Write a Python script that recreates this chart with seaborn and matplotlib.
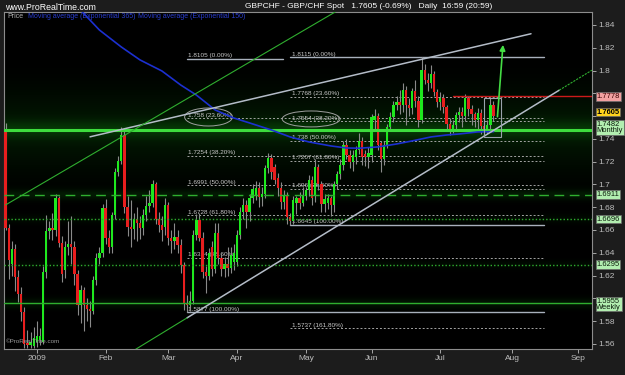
import numpy as np
import pandas as pd
import matplotlib
matplotlib.use('Agg')
import matplotlib.pyplot as plt
import matplotlib.transforms as mtrans
import seaborn as sns
from matplotlib.patches import Ellipse, Rectangle, FancyArrowPatch

# ---------------- data ----------------
start_date = '2008-12-18'
opens = [1.746, 1.662, 1.630, 1.643, 1.619, 1.604, 1.588, 1.561, 1.559, 1.558,
         1.562, 1.563, 1.562, 1.623, 1.659, 1.662, 1.660, 1.688, 1.649, 1.625,
         1.645, 1.648, 1.645, 1.621, 1.594, 1.607, 1.594, 1.591, 1.589, 1.616,
         1.635, 1.640, 1.679, 1.653, 1.645, 1.673, 1.711, 1.721, 1.743, 1.680,
         1.663, 1.661, 1.670, 1.666, 1.662, 1.673, 1.681, 1.684, 1.700, 1.670,
         1.664, 1.663, 1.682, 1.653, 1.650, 1.654, 1.647, 1.629, 1.596, 1.594,
         1.598, 1.656, 1.669, 1.653, 1.623, 1.620, 1.645, 1.626, 1.657, 1.635,
         1.626, 1.630, 1.627, 1.632, 1.632, 1.656, 1.676, 1.682, 1.676, 1.688,
         1.690, 1.697, 1.689, 1.692, 1.714, 1.723, 1.715, 1.706, 1.697, 1.685,
         1.690, 1.671, 1.668, 1.684, 1.688, 1.684, 1.690, 1.695, 1.704, 1.690,
         1.715, 1.700, 1.683, 1.684, 1.688, 1.682, 1.700, 1.709, 1.717, 1.735,
         1.726, 1.720, 1.724, 1.730, 1.738, 1.727, 1.724, 1.726, 1.757, 1.760,
         1.736, 1.722, 1.735, 1.750, 1.759, 1.770, 1.772, 1.770, 1.783, 1.770,
         1.767, 1.782, 1.773, 1.757, 1.8005, 1.792, 1.789, 1.797, 1.781, 1.772,
         1.776, 1.768, 1.753, 1.749, 1.752, 1.761, 1.764, 1.760, 1.776, 1.766,
         1.762, 1.757, 1.763, 1.751, 1.748, 1.752, 1.770]
highs = [1.754, 1.665, 1.650, 1.648, 1.625, 1.610, 1.592, 1.572, 1.570, 1.575,
         1.580, 1.574, 1.628, 1.673, 1.668, 1.675, 1.692, 1.690, 1.655, 1.650,
         1.668, 1.672, 1.650, 1.625, 1.612, 1.610, 1.600, 1.598, 1.620, 1.640,
         1.645, 1.683, 1.687, 1.660, 1.676, 1.714, 1.725, 1.750, 1.749, 1.690,
         1.686, 1.675, 1.680, 1.672, 1.678, 1.690, 1.695, 1.704, 1.702, 1.676,
         1.672, 1.688, 1.685, 1.660, 1.666, 1.660, 1.652, 1.632, 1.603, 1.606,
         1.660, 1.674, 1.675, 1.658, 1.628, 1.644, 1.650, 1.666, 1.666, 1.640,
         1.636, 1.645, 1.645, 1.648, 1.660, 1.680, 1.688, 1.686, 1.692, 1.700,
         1.703, 1.702, 1.698, 1.717, 1.728, 1.727, 1.718, 1.710, 1.702, 1.695,
         1.693, 1.675, 1.690, 1.690, 1.693, 1.698, 1.698, 1.708, 1.707, 1.722,
         1.718, 1.703, 1.692, 1.692, 1.690, 1.703, 1.712, 1.722, 1.738, 1.740,
         1.730, 1.730, 1.734, 1.745, 1.742, 1.730, 1.733, 1.762, 1.766, 1.763,
         1.738, 1.738, 1.753, 1.764, 1.773, 1.778, 1.783, 1.789, 1.786, 1.776,
         1.785, 1.792, 1.778, 1.8115, 1.806, 1.798, 1.805, 1.800, 1.784, 1.781,
         1.779, 1.770, 1.758, 1.757, 1.764, 1.768, 1.768, 1.779, 1.778, 1.770,
         1.764, 1.767, 1.766, 1.755, 1.757, 1.776, 1.773]
lows = [1.660, 1.617, 1.620, 1.606, 1.597, 1.580, 1.556, 1.556, 1.556, 1.556,
        1.557, 1.559, 1.560, 1.618, 1.652, 1.651, 1.655, 1.645, 1.614, 1.618,
        1.638, 1.630, 1.612, 1.585, 1.578, 1.571, 1.580, 1.575, 1.586, 1.612,
        1.630, 1.636, 1.648, 1.640, 1.640, 1.670, 1.707, 1.718, 1.675, 1.655,
        1.645, 1.652, 1.650, 1.652, 1.656, 1.668, 1.676, 1.680, 1.665, 1.658,
        1.650, 1.656, 1.647, 1.640, 1.643, 1.640, 1.622, 1.590, 1.5877, 1.589,
        1.595, 1.651, 1.650, 1.618, 1.605, 1.616, 1.620, 1.622, 1.630, 1.620,
        1.619, 1.620, 1.622, 1.625, 1.628, 1.652, 1.670, 1.662, 1.668, 1.684,
        1.686, 1.680, 1.681, 1.688, 1.710, 1.705, 1.700, 1.690, 1.678, 1.678,
        1.665, 1.6645, 1.665, 1.674, 1.678, 1.681, 1.686, 1.690, 1.682, 1.685,
        1.695, 1.676, 1.676, 1.678, 1.672, 1.676, 1.696, 1.705, 1.713, 1.722,
        1.714, 1.712, 1.718, 1.727, 1.717, 1.716, 1.714, 1.720, 1.748, 1.730,
        1.711, 1.717, 1.732, 1.747, 1.755, 1.765, 1.762, 1.764, 1.752, 1.760,
        1.762, 1.768, 1.7505, 1.754, 1.788, 1.782, 1.785, 1.778, 1.768, 1.765,
        1.763, 1.749, 1.743, 1.745, 1.747, 1.755, 1.750, 1.756, 1.760, 1.752,
        1.750, 1.748, 1.744, 1.7417, 1.744, 1.749, 1.756]
closes = [1.662, 1.634, 1.643, 1.619, 1.604, 1.588, 1.560, 1.559, 1.562, 1.565,
          1.567, 1.567, 1.623, 1.659, 1.662, 1.660, 1.688, 1.649, 1.621, 1.645,
          1.648, 1.645, 1.621, 1.594, 1.607, 1.594, 1.591, 1.589, 1.616, 1.635,
          1.640, 1.679, 1.653, 1.645, 1.673, 1.711, 1.721, 1.743, 1.680, 1.663,
          1.661, 1.670, 1.666, 1.662, 1.673, 1.681, 1.684, 1.700, 1.670, 1.664,
          1.660, 1.682, 1.653, 1.650, 1.654, 1.647, 1.629, 1.596, 1.594, 1.598,
          1.656, 1.669, 1.653, 1.623, 1.620, 1.640, 1.626, 1.657, 1.635, 1.626,
          1.630, 1.627, 1.638, 1.640, 1.656, 1.676, 1.682, 1.676, 1.688, 1.696,
          1.697, 1.689, 1.692, 1.714, 1.723, 1.711, 1.704, 1.697, 1.685, 1.690,
          1.671, 1.668, 1.686, 1.688, 1.684, 1.690, 1.695, 1.704, 1.688, 1.715,
          1.700, 1.683, 1.687, 1.688, 1.682, 1.700, 1.709, 1.717, 1.735, 1.726,
          1.720, 1.726, 1.730, 1.738, 1.724, 1.724, 1.728, 1.759, 1.760, 1.735,
          1.722, 1.735, 1.750, 1.759, 1.770, 1.772, 1.770, 1.783, 1.770, 1.767,
          1.782, 1.773, 1.757, 1.8005, 1.792, 1.789, 1.797, 1.781, 1.772, 1.776,
          1.768, 1.753, 1.749, 1.752, 1.761, 1.764, 1.760, 1.776, 1.766, 1.762,
          1.757, 1.763, 1.751, 1.748, 1.752, 1.770, 1.7605]

ema_dates = ['2009-01-21', '2009-01-29', '2009-02-09', '2009-02-17', '2009-02-26',
             '2009-03-06', '2009-03-13', '2009-03-23', '2009-03-31', '2009-04-07',
             '2009-04-16', '2009-04-24', '2009-05-04', '2009-05-13', '2009-05-20',
             '2009-05-26', '2009-06-03', '2009-06-11', '2009-06-18', '2009-06-26',
             '2009-07-03', '2009-07-09', '2009-07-17', '2009-07-24']
ema_values = [1.853, 1.8356, 1.8207, 1.8093, 1.7996, 1.7873, 1.7785, 1.7654,
              1.7583, 1.7540, 1.7478, 1.7417, 1.7373, 1.7338, 1.7320, 1.7318,
              1.7329, 1.7355, 1.7382, 1.7417, 1.7434, 1.7443, 1.7461, 1.7463]

month_ticks = ['2009-01-01', '2009-02-02', '2009-03-02', '2009-04-01', '2009-05-01',
               '2009-06-01', '2009-07-01', '2009-08-03', '2009-09-01']
month_labels = ['2009', 'Feb', 'Mar', 'Apr', 'May', 'Jun', 'Jul', 'Aug', 'Sep']

fib_a_levels = [1.8105, 1.758, 1.7254, 1.6991, 1.6728, 1.6354, 1.5877]
fib_a_pcts = ['0.00', '23.60', '38.20', '50.00', '61.80', '78.60', '100.00']
fib_b_levels = [1.8115, 1.7768, 1.7554, 1.738, 1.7207, 1.696, 1.6645, 1.5737]
fib_b_pcts = ['0.00', '23.60', '38.20', '50.00', '61.80', '78.60', '100.00', '161.80']

support_levels = [1.7482, 1.6911, 1.6696, 1.6295, 1.5955]
resistance_level = 1.7778
last_price = 1.7605

box_values = [1.7778, 1.7605, 1.7482, 1.6911, 1.6696, 1.6295, 1.5955]
box_texts = ['1.7778', '1.7605', '1.7482\nMonthly', '1.6911', '1.6696', '1.6295', '1.5955\nWeekly']
hidden_ticks = [1.78, 1.76, 1.6]

# ---------------- style ----------------
sns.set_theme(style='dark', rc={
    'figure.facecolor': '#1c1c1c', 'axes.facecolor': '#000000',
    'axes.edgecolor': '#8c8c8c', 'xtick.color': '#bdbdbd', 'ytick.color': '#bdbdbd',
    'text.color': '#c8c8c8', 'axes.grid': False, 'axes.linewidth': 0.8})
plt.rcParams['font.family'] = ['Liberation Sans', 'DejaVu Sans']

cal = pd.bdate_range(start_date, '2009-09-30')
def pos(d):
    return cal.get_loc(pd.Timestamp(d))

fig = plt.figure(figsize=(6.25, 3.75), dpi=100)
ax = fig.add_axes([4 / 625, 26 / 375, 588 / 625, 337 / 375])
xmin, xmax = -0.5, 187.5
ymin, ymax = 1.5555, 1.8514
ax.set_xlim(xmin, xmax)
ax.set_ylim(ymin, ymax)

# glow background
ys = np.linspace(ymin, ymax, 900)
glow = (0.13 * np.exp(-((ys - 1.7482) / 0.008) ** 2) +
        0.085 * np.exp(-((ys - 1.7482) / 0.035) ** 2) +
        0.10 * np.exp(-((ys - 1.6911) / 0.0045) ** 2) +
        0.08 * np.exp(-((ys - 1.5955) / 0.0045) ** 2) +
        0.04 * np.exp(-((ys - 1.6696) / 0.004) ** 2) +
        0.04 * np.exp(-((ys - 1.6295) / 0.004) ** 2))
img = np.zeros((len(ys), 1, 3))
img[:, 0, 0] = 0.10 * glow
img[:, 0, 1] = glow
img[:, 0, 2] = 0.10 * glow
ax.imshow(np.clip(img, 0, 1), extent=[xmin, xmax, ymin, ymax], origin='lower',
          aspect='auto', zorder=0, interpolation='bilinear')

# fibonacci sets
fa0, fa1, fa_end0 = pos('2009-03-10'), pos('2009-08-17'), pos('2009-04-21') + 0.8
fb0 = pos('2009-04-24')
fibc = '#a4a4a4'
for k, (lv, pc) in enumerate(zip(fib_a_levels, fib_a_pcts)):
    if k == 0:
        ax.plot([fa0, fa_end0], [lv, lv], color='#a8b0bc', lw=1.0, zorder=1)
    elif pc == '100.00':
        ax.plot([fa0, fa1], [lv, lv], color='#a8b0bc', lw=1.0, zorder=1)
    else:
        ax.plot([fa0, fa1], [lv, lv], color=fibc, lw=0.7, ls=(0, (2, 2)), zorder=1)
    ax.text(fa0 + 0.3, lv + 0.0006, f'{lv:g} ({pc}%)', fontsize=4.6,
            color='#c8c8c8', ha='left', va='bottom', zorder=1.5)
for lv, pc in zip(fib_b_levels, fib_b_pcts):
    if pc in ('0.00', '100.00'):
        ax.plot([fb0, fa1], [lv, lv], color='#a8b0bc', lw=1.0, zorder=1)
    else:
        ax.plot([fb0, fa1], [lv, lv], color=fibc, lw=0.7, ls=(0, (2, 2)), zorder=1)
    ax.text(fb0 + 0.6, lv + 0.0006, f'{lv:g} ({pc}%)', fontsize=4.6,
            color='#c8c8c8', ha='left', va='bottom', zorder=1.5)

# ellipses around fib labels
ax.add_patch(Ellipse((pos('2009-03-18') + 0.9, 1.7592), 15.3, 0.0158, fill=False,
                     ec='#a0a0a0', lw=0.7, zorder=1.6))
ax.add_patch(Ellipse((pos('2009-05-05') - 0.3, 1.7575), 18.5, 0.0140, fill=False,
                     ec='#a0a0a0', lw=0.7, zorder=1.6))

# candles
x = np.arange(len(opens))
o = np.array(opens); h = np.array(highs); l = np.array(lows); c = np.array(closes)
up = c >= o
ax.vlines(x, l, h, color='#8a8a8a', lw=0.8, zorder=3)
body_bottom = np.minimum(o, c)
body_h = np.maximum(np.abs(c - o), 0.0009)
ax.bar(x, body_h, bottom=body_bottom, width=0.74,
       color=np.where(up, '#1ee81e', '#e81e1e'), edgecolor='none',
       linewidth=0, zorder=4)

# green horizontal levels
ax.axhline(support_levels[0], color='#3ddc3d', lw=2.2, zorder=4.5)
ax.axhline(support_levels[1], color='#2fae2f', lw=1.0, ls=(0, (7, 4)), zorder=4.5)
ax.axhline(support_levels[2], color='#2fae2f', lw=1.0, ls=(0, (1, 1.5)), zorder=4.5)
ax.axhline(support_levels[3], color='#2fae2f', lw=1.0, ls=(0, (1, 1.5)), zorder=4.5)
ax.axhline(support_levels[4], color='#2fae2f', lw=1.0, zorder=4.5)
ax.plot([pos('2009-07-07'), xmax], [resistance_level, resistance_level],
        color='#cc1a1a', lw=1.0, zorder=4.5)

# EMA (blue)
sns.lineplot(x=[pos(d) for d in ema_dates], y=ema_values, ax=ax, color='#1c30d0',
             linewidth=1.2, zorder=5, legend=False)

# trend lines
tc = '#b4bcc8'
ax.plot([pos('2009-01-26'), pos('2009-08-11')], [1.7418, 1.8323], color=tc, lw=1.1, zorder=5)
pa, pb = (pos('2009-03-10'), 1.5828), (pos('2009-08-24'), 1.7827)
slope = (pb[1] - pa[1]) / (pb[0] - pa[0])
xl = pos('2009-02-13')
ax.plot([pa[0], pb[0]], [pa[1], pb[1]], color=tc, lw=1.1, zorder=5)
ax.plot([xl, pa[0]], [pa[1] + slope * (xl - pa[0]), pa[1]], color='#2fae2f', lw=0.8, zorder=5)
ax.plot([pb[0], xmax], [pb[1], pb[1] + slope * (xmax - pb[0])], color='#2fae2f',
        lw=0.8, ls=(0, (2, 1)), zorder=5)
ax.plot([pos('2008-12-18'), pos('2009-05-18')], [1.682, 1.854], color='#2fae2f', lw=0.8, zorder=5)

# consolidation box and arrow
ax.add_patch(Rectangle((pos('2009-07-21'), 1.7417), 5.5, 1.7759 - 1.7417, fill=False,
                       ec='#9aa2ac', lw=0.8, zorder=5.5))
ax.add_patch(FancyArrowPatch((pos('2009-07-27') + 0.2, 1.7570), (pos('2009-07-29') + 0.1, 1.8250),
                             arrowstyle='-|>', mutation_scale=8, color='#44dd44', lw=1.2,
                             zorder=6))

# axes styling
ax.yaxis.tick_right()
yt = np.round(np.arange(1.56, 1.8401, 0.02), 2)
ax.set_yticks(yt)
ax.set_yticklabels(['' if any(abs(v - hv) < 1e-6 for hv in hidden_ticks) else f'{v:g}'
                    for v in yt])
ax.set_xticks([pos(d) for d in month_ticks])
ax.set_xticklabels(month_labels)
ax.tick_params(axis='y', right=True, left=False, labelright=True, labelleft=False,
               length=3, width=0.6, pad=1.5, labelsize=6, colors='#bdbdbd')
ax.tick_params(axis='x', bottom=True, length=3, width=0.6, pad=1.5, labelsize=6,
               colors='#bdbdbd')
for s in ax.spines.values():
    s.set_color('#8c8c8c')
    s.set_linewidth(0.8)

# right side price boxes
trans = mtrans.blended_transform_factory(ax.transAxes, ax.transData)
box_fc = ['#f2a0a0', '#ffd21e', '#b2eeb0', '#b2eeb0', '#b2eeb0', '#b2eeb0', '#b2eeb0']
box_tc = ['#3a0000', '#000000', '#0a1a0a', '#0a1a0a', '#0a1a0a', '#0a1a0a', '#0a1a0a']
box_y = [1.7772, 1.7634, 1.7502, 1.6911, 1.6696, 1.6295, 1.5950]
for v, t, fc, tcol, yy in zip(box_values, box_texts, box_fc, box_tc, box_y):
    ax.text(1.0075, yy, t, transform=trans, ha='left', va='center', fontsize=5.4,
            color=tcol, linespacing=0.8, fontweight='bold' if v == last_price else 'normal',
            bbox=dict(boxstyle='square,pad=0.1', fc=fc, ec='#6a6a6a', lw=0.5),
            clip_on=False, zorder=10)

# texts
fig.text(5 / 625, 1 - 7 / 375, 'www.ProRealTime.com', fontsize=6.3, color='#ffffff',
         ha='left', va='center')
fig.text(245 / 625, 1 - 7 / 375,
         'GBPCHF - GBP/CHF Spot   1.7605 (-0.69%)   Daily  16:59 (20:59)',
         fontsize=6.0, color='#ffffff', ha='left', va='center')
ax.text(0.005, 0.987, 'Price', transform=ax.transAxes, fontsize=5, color='#b0b0b0',
        ha='left', va='center', zorder=8)
ax.text(0.041, 0.987, 'Moving average (Exponential 365)', transform=ax.transAxes,
        fontsize=5, color='#2a3ed0', ha='left', va='center', zorder=8)
ax.text(0.228, 0.987, 'Moving average (Exponential 150)', transform=ax.transAxes,
        fontsize=5, color='#2a3ed0', ha='left', va='center', zorder=8)
ax.text(0.003, 0.015, '©ProRealTime.com', transform=ax.transAxes, fontsize=4.5,
        color='#9a9a9a', ha='left', va='bottom', zorder=8)

fig.savefig('out.png', dpi=100, facecolor=fig.get_facecolor())
